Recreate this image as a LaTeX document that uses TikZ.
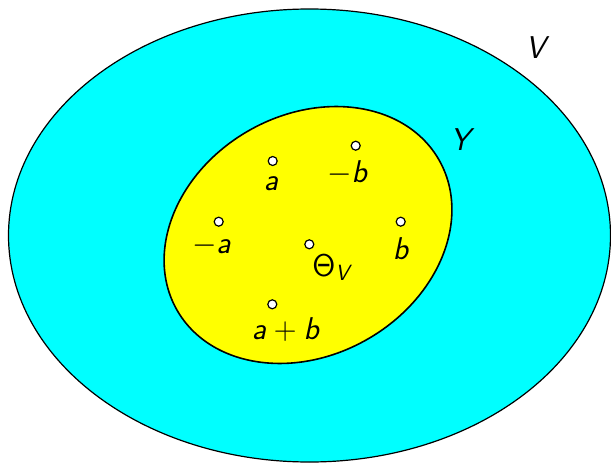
\RequirePackage{fix-cm}
\documentclass[tikz,border=0pt]{standalone}
\DeclareMathAlphabet{\mathsfit}{OT1}{cmss}{m}{sl}
\begin{document}
\begin{tikzpicture}[x=1pt,y=-1pt,
  pt/.style={circle,draw=black,fill=white,line width=1.2pt,minimum size=9pt,inner sep=0pt},
  lbl/.style={anchor=base,inner sep=0pt,font=\fontsize{31.5}{36}\selectfont}]
\useasboundingbox (0,0) rectangle (611,463);
\definecolor{cy}{RGB}{0,255,255}
\definecolor{ye}{RGB}{255,255,0}
\draw[fill=cy,line width=1.2pt] (309.5,235.5) ellipse [x radius=301,y radius=226.5];
\draw[fill=ye,line width=1.6pt,rotate around={30:(308,235)}] (308,235) ellipse [x radius=151,y radius=120];
\node[pt] (pa) at (272.7,161) {};
\node[pt] (pmb) at (355.7,145.7) {};
\node[pt] (pma) at (218.7,221.7) {};
\node[pt] (pb) at (400.7,221.7) {};
\node[pt] (pth) at (309.3,244.3) {};
\node[pt] (pab) at (272.3,304.3) {};
\node[lbl] (la) at (271.5,190) {$\mathsfit{a}$};
\node[lbl] (lmb) at (347.5,182) {$-\mathsfit{b}$};
\node[lbl] (lma) at (211.7,253) {$-\mathsfit{a}$};
\node[lbl] (lb) at (401,259) {$\mathsfit{b}$};
\node[lbl] (lth) at (332.7,276) {$\mathsf{\Theta}_{\mathsfit{V}}$};
\node[lbl] (lab) at (286,339) {$\mathsfit{a}+\mathsfit{b}$};
\node[lbl] (lV) at (538,58) {$\mathsfit{V}$};
\node[lbl] (lY) at (463,150) {$\mathsfit{Y}$};
\end{tikzpicture}
\end{document}
